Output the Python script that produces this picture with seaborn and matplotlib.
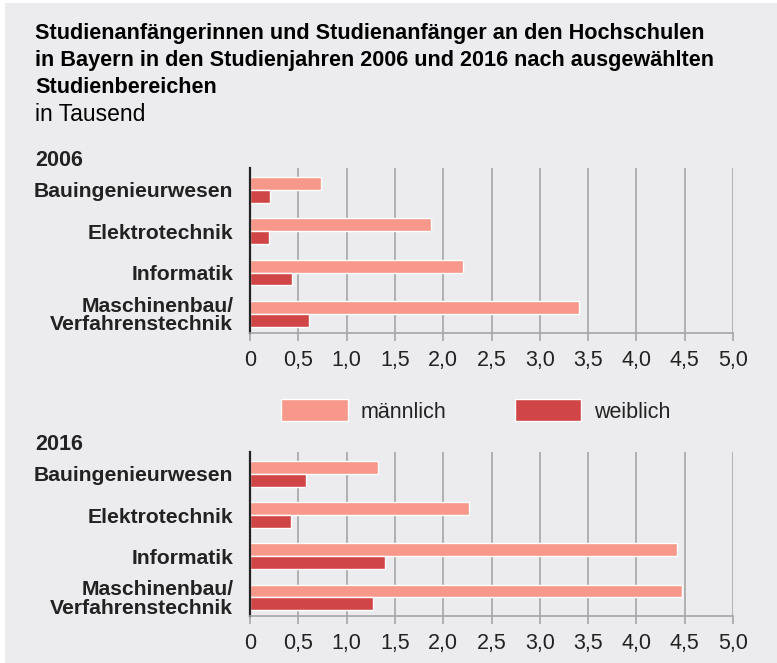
import pandas as pd
import matplotlib.pyplot as plt
import seaborn as sns
from matplotlib.patches import Rectangle, Patch

# Werte in Tausend
bereiche = ["Bauingenieurwesen", "Elektrotechnik", "Informatik", "Maschinenbau/\nVerfahrenstechnik"]
maennlich_2006 = [0.73, 1.87, 2.21, 3.41]
weiblich_2006 = [0.21, 0.20, 0.43, 0.61]
maennlich_2016 = [1.33, 2.27, 4.42, 4.47]
weiblich_2016 = [0.575, 0.42, 1.40, 1.27]
xticks = [0, 0.5, 1.0, 1.5, 2.0, 2.5, 3.0, 3.5, 4.0, 4.5, 5.0]
xticklabels = ["0", "0,5", "1,0", "1,5", "2,0", "2,5", "3,0", "3,5", "4,0", "4,5", "5,0"]
titel_zeilen = ["Studienanfängerinnen und Studienanfänger an den Hochschulen",
                "in Bayern in den Studienjahren 2006 und 2016 nach ausgewählten",
                "Studienbereichen"]

bg = "#ECECEE"
c_m = "#F7988A"
c_w = "#D04646"
txt = "#222222"

sns.set_theme(style="white")
plt.rcParams['font.family'] = ['Liberation Sans', 'DejaVu Sans']


def long_df(m, w):
    return pd.DataFrame({
        "Bereich": bereiche * 2,
        "Wert": m + w,
        "Geschlecht": ["männlich"] * len(m) + ["weiblich"] * len(w),
    })


fig = plt.figure(figsize=(7.77, 6.63), dpi=100)
fig.patch.set_facecolor("white")
fig.patches.append(Rectangle((5 / 777, 0), 1, 1 - 3 / 663, transform=fig.transFigure,
                             facecolor=bg, edgecolor="none", zorder=-10))

ax1 = fig.add_axes([250 / 777, 1 - 333 / 663, 483 / 777, 165 / 663])
ax2 = fig.add_axes([250 / 777, 1 - 616 / 663, 483 / 777, 164 / 663])

for ax, m, w, ylim in [(ax1, maennlich_2006, weiblich_2006, (3.46, -0.53)),
                       (ax2, maennlich_2016, weiblich_2016, (3.45, -0.53))]:
    df = long_df(m, w)
    sns.barplot(data=df, x="Wert", y="Bereich", hue="Geschlecht",
                palette=[c_m, c_w], saturation=1, width=0.62, orient="h",
                edgecolor="white", linewidth=1, legend=False, ax=ax)
    ax.set_facecolor("none")
    ax.set_xlim(0, 5.0)
    ax.set_ylim(*ylim)
    ax.set_xticks(xticks)
    ax.set_xticklabels(xticklabels, fontsize=15.5, color=txt)
    ax.set_yticks(range(len(bereiche)))
    ax.set_yticklabels(bereiche, fontsize=15.2, fontweight="bold", color=txt,
                       linespacing=0.95)
    ax.set_xlabel("")
    ax.set_ylabel("")
    ax.grid(axis="x", color="#A6A6A6", linewidth=1.2, zorder=0)
    ax.set_axisbelow(True)
    for s in ["top", "right"]:
        ax.spines[s].set_visible(False)
    ax.spines["left"].set_color(txt)
    ax.spines["left"].set_linewidth(1.6)
    ax.spines["bottom"].set_color("#A6A6A6")
    ax.spines["bottom"].set_linewidth(1.2)
    ax.tick_params(axis="x", bottom=True, length=6, width=1.2, color="#A6A6A6", pad=6)
    ax.tick_params(axis="y", left=False, pad=6)

# Titel zeilenweise (Grundlinien wie im Original)
for i, zeile in enumerate(titel_zeilen):
    fig.text(35 / 777, 1 - (39 + 27 * i) / 663, zeile, fontsize=15.6,
             fontweight="bold", color="black", va="baseline", ha="left")
fig.text(35 / 777, 1 - 121 / 663, "in Tausend", fontsize=16.5, color="black",
         va="baseline", ha="left")
fig.text(35 / 777, 1 - 161 / 663, "2006", fontsize=15.5, fontweight="bold", color=txt,
         va="center", ha="left")
fig.text(35 / 777, 1 - 444 / 663, "2016", fontsize=15.5, fontweight="bold", color=txt,
         va="center", ha="left")

handles = [Patch(facecolor=c_m, edgecolor="white", label="männlich"),
           Patch(facecolor=c_w, edgecolor="white", label="weiblich")]
fig.legend(handles=handles, loc="center", bbox_to_anchor=(476 / 777, 1 - 411 / 663),
           ncol=2, frameon=False, fontsize=15.5, handlelength=3.1, handleheight=1.2,
           handletextpad=0.6, columnspacing=3.15, labelcolor=txt)

fig.savefig("out.png", dpi=100, facecolor=fig.get_facecolor())
